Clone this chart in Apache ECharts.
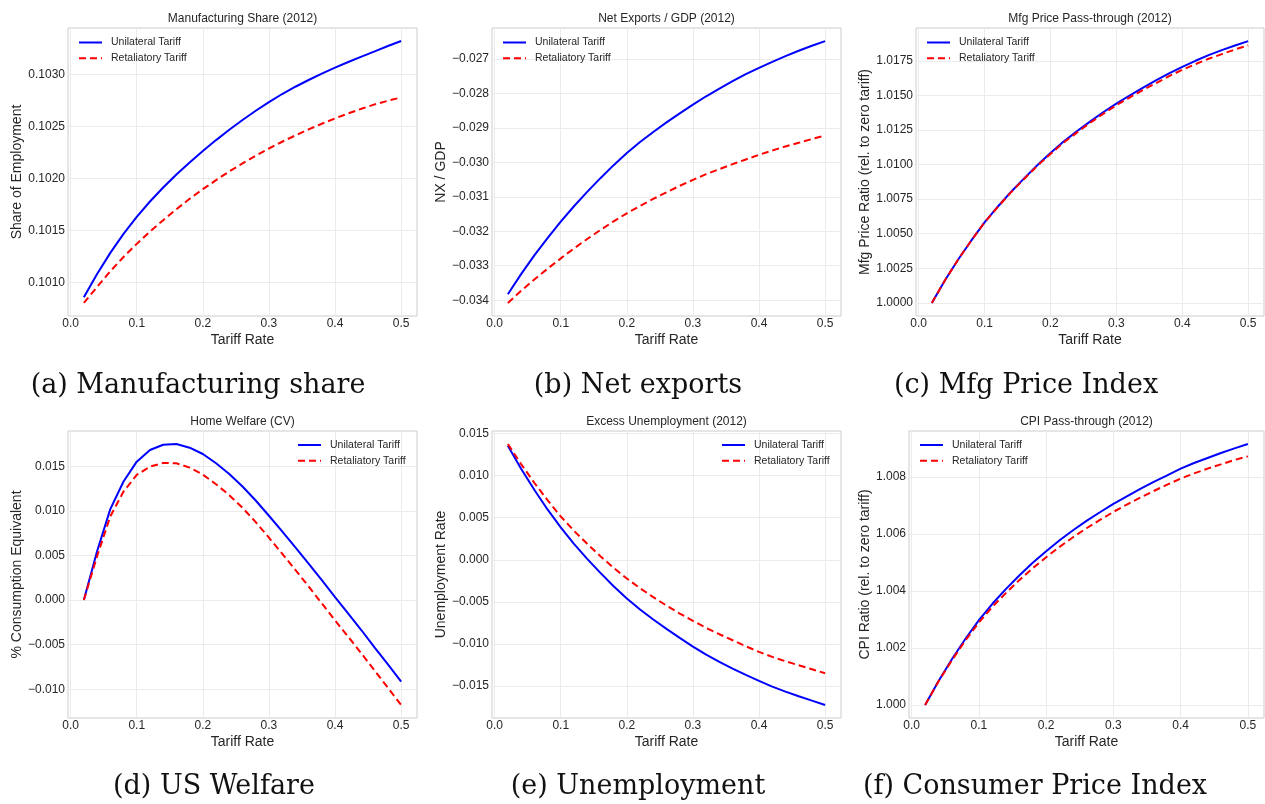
<!DOCTYPE html>
<html>
<head>
<meta charset="utf-8">
<script src="https://cdn.jsdelivr.net/npm/echarts@6/dist/echarts.min.js"></script>
<style>
html, body { margin: 0; padding: 0; background: #fff; }
#chart { width: 1265px; height: 804px; }
</style>
</head>
<body>
<div id="chart"></div>
<script>
// tariff grid (x values)
var TARIFF = [0.02, 0.04, 0.06, 0.08, 0.10, 0.12, 0.14, 0.16, 0.18, 0.20, 0.22, 0.24, 0.26,
              0.28, 0.30, 0.32, 0.34, 0.36, 0.38, 0.40, 0.42, 0.44, 0.46, 0.48, 0.50];

// (a) manufacturing share
var mfgShareUni = [0.100855, 0.101080, 0.101283, 0.101466, 0.101630, 0.101778, 0.101913, 0.102039, 0.102154,
                   0.102264, 0.102370, 0.102469, 0.102563, 0.102653, 0.102736, 0.102814, 0.102884, 0.102949,
                   0.103010, 0.103068, 0.103122, 0.103174, 0.103225, 0.103277, 0.103325];
var mfgShareRet = [0.100801, 0.100955, 0.101106, 0.101244, 0.101370, 0.101489, 0.101598, 0.101704, 0.101804,
                   0.101897, 0.101984, 0.102068, 0.102145, 0.102219, 0.102289, 0.102354, 0.102415, 0.102473,
                   0.102527, 0.102579, 0.102627, 0.102672, 0.102714, 0.102749, 0.102781];

// (b) net exports / GDP
var nxUni = [-0.033826, -0.033244, -0.032701, -0.032197, -0.031722, -0.031276, -0.030859, -0.030461, -0.030083,
             -0.029734, -0.029414, -0.029123, -0.028842, -0.028580, -0.028328, -0.028086, -0.027863, -0.027650,
             -0.027446, -0.027262, -0.027087, -0.026922, -0.026767, -0.026622, -0.026486];
var nxRet = [-0.034078, -0.033729, -0.033399, -0.033089, -0.032788, -0.032497, -0.032226, -0.031964, -0.031712,
             -0.031479, -0.031266, -0.031062, -0.030869, -0.030684, -0.030510, -0.030345, -0.030200, -0.030054,
             -0.029918, -0.029783, -0.029657, -0.029540, -0.029434, -0.029327, -0.029220];

// (c) mfg price ratio
var mfgPriceUni = [1.000000, 1.001641, 1.003138, 1.004514, 1.005817, 1.006952, 1.008014, 1.009003, 1.009945,
                   1.010838, 1.011659, 1.012407, 1.013107, 1.013783, 1.014410, 1.014990, 1.015545, 1.016076,
                   1.016583, 1.017066, 1.017500, 1.017910, 1.018272, 1.018610, 1.018924];
var mfgPriceRet = [1.000000, 1.001641, 1.003138, 1.004514, 1.005817, 1.006928, 1.007990, 1.008955, 1.009897,
                   1.010766, 1.011587, 1.012310, 1.013010, 1.013662, 1.014289, 1.014845, 1.015376, 1.015883,
                   1.016390, 1.016849, 1.017259, 1.017644, 1.017982, 1.018320, 1.018610];

// (d) home welfare
var welfareUni = [0.000000, 0.005469, 0.010193, 0.013281, 0.015513, 0.016815, 0.017411, 0.017485, 0.017076,
                  0.016369, 0.015327, 0.014137, 0.012723, 0.011161, 0.009449, 0.007701, 0.005915, 0.004092,
                  0.002232, 0.000335, -0.001525, -0.003385, -0.005320, -0.007217, -0.009152];
var welfareRet = [0.000000, 0.004911, 0.009375, 0.012165, 0.014025, 0.014955, 0.015364, 0.015327, 0.014844,
                  0.014062, 0.012983, 0.011756, 0.010342, 0.008742, 0.006994, 0.005208, 0.003385, 0.001525,
                  -0.000372, -0.002269, -0.004129, -0.005990, -0.007924, -0.009821, -0.011756];

// (e) excess unemployment
var unempUni = [0.013553, 0.010819, 0.008322, 0.005984, 0.003844, 0.001902, 0.000119, -0.001546, -0.003131,
                -0.004597, -0.005905, -0.007094, -0.008203, -0.009273, -0.010304, -0.011255, -0.012127, -0.012919,
                -0.013672, -0.014386, -0.015059, -0.015654, -0.016209, -0.016724, -0.017239];
var unempRet = [0.013752, 0.011374, 0.009155, 0.007094, 0.005152, 0.003448, 0.001902, 0.000436, -0.000951,
                -0.002219, -0.003369, -0.004439, -0.005429, -0.006380, -0.007252, -0.008085, -0.008837, -0.009551,
                -0.010264, -0.010938, -0.011532, -0.012048, -0.012523, -0.012999, -0.013474];

// (f) CPI ratio
var cpiUni = [1.000000, 1.000841, 1.001612, 1.002324, 1.002978, 1.003550, 1.004064, 1.004543, 1.004987,
              1.005396, 1.005781, 1.006131, 1.006458, 1.006762, 1.007054, 1.007323, 1.007580, 1.007825,
              1.008058, 1.008292, 1.008490, 1.008666, 1.008841, 1.009004, 1.009156];
var cpiRet = [1.000000, 1.000829, 1.001577, 1.002266, 1.002896, 1.003445, 1.003924, 1.004380, 1.004800,
              1.005185, 1.005547, 1.005886, 1.006201, 1.006493, 1.006774, 1.007031, 1.007276, 1.007509,
              1.007731, 1.007942, 1.008128, 1.008292, 1.008444, 1.008596, 1.008724];

// tick labels
var X_TICKS = [0.0, 0.1, 0.2, 0.3, 0.4, 0.5];
var mfgShareTicks = [0.1010, 0.1015, 0.1020, 0.1025, 0.1030];
var nxTicks = [-0.034, -0.033, -0.032, -0.031, -0.030, -0.029, -0.028, -0.027];
var mfgPriceTicks = [1.0000, 1.0025, 1.0050, 1.0075, 1.0100, 1.0125, 1.0150, 1.0175];
var welfareTicks = [-0.010, -0.005, 0.000, 0.005, 0.010, 0.015];
var unempTicks = [-0.015, -0.010, -0.005, 0.000, 0.005, 0.010, 0.015];
var cpiTicks = [1.000, 1.002, 1.004, 1.006, 1.008];

var SERIES_NAMES = ['Unilateral Tariff', 'Retaliatory Tariff'];

/**
 * 面板布局：网格位置、坐标范围、图例位置、标题、说明文字
 */
var panels = [
    { title: 'Manufacturing Share (2012)', yName: 'Share of Employment', uni: mfgShareUni, ret: mfgShareRet,
      ticks: mfgShareTicks, dec: 4, ymin: 0.100675, ymax: 0.103450,
      left: 68, top: 28, width: 349, height: 288, nameGap: 44, legendLeft: 78, legendTop: 37,
      caption: '(a) Manufacturing share', capX: 198, capY: 386 },
    { title: 'Net Exports / GDP (2012)', yName: 'NX / GDP', uni: nxUni, ret: nxRet,
      ticks: nxTicks, dec: 3, ymin: -0.034458, ymax: -0.026106,
      left: 492, top: 28, width: 349, height: 288, nameGap: 44, legendLeft: 502, legendTop: 37,
      caption: '(b) Net exports', capX: 638, capY: 386 },
    { title: 'Mfg Price Pass-through (2012)', yName: 'Mfg Price Ratio (rel. to zero tariff)', uni: mfgPriceUni, ret: mfgPriceRet,
      ticks: mfgPriceTicks, dec: 4, ymin: 0.999054, ymax: 1.019870,
      left: 916, top: 28, width: 348, height: 288, nameGap: 44, legendLeft: 926, legendTop: 37,
      caption: '(c) Mfg Price Index', capX: 1026, capY: 386 },
    { title: 'Home Welfare (CV)', yName: '% Consumption Equivalent', uni: welfareUni, ret: welfareRet,
      ticks: welfareTicks, dec: 3, ymin: -0.013218, ymax: 0.018947,
      left: 68, top: 431, width: 349, height: 287, nameGap: 44, legendLeft: 297, legendTop: 439.5,
      caption: '(d) US Welfare', capX: 214, capY: 787 },
    { title: 'Excess Unemployment (2012)', yName: 'Unemployment Rate', uni: unempUni, ret: unempRet,
      ticks: unempTicks, dec: 3, ymin: -0.018789, ymax: 0.015302,
      left: 492, top: 431, width: 349, height: 287, nameGap: 44, legendLeft: 721, legendTop: 439.5,
      caption: '(e) Unemployment', capX: 638, capY: 787 },
    { title: 'CPI Pass-through (2012)', yName: 'CPI Ratio (rel. to zero tariff)', uni: cpiUni, ret: cpiRet,
      ticks: cpiTicks, dec: 3, ymin: 0.999542, ymax: 1.009614,
      left: 909, top: 431, width: 355, height: 287, nameGap: 37, legendLeft: 919, legendTop: 439.5,
      caption: '(f) Consumer Price Index', capX: 1035, capY: 787 }
];

var FONT = 'Liberation Sans, Arial, sans-serif';
var TEXT_COLOR = '#262626';

function fmt(dec) {
    return function (v) { return v.toFixed(dec).replace('-', '\u2212'); };
}

function pairs(xs, ys) {
    return xs.map(function (x, i) { return [x, ys[i]]; });
}

var option = {
    animation: false,
    backgroundColor: '#ffffff',
    title: [],
    grid: [],
    xAxis: [],
    yAxis: [],
    legend: [],
    series: [],
    graphic: []
};

panels.forEach(function (p, i) {
    option.title.push({
        text: p.title,
        left: p.left + p.width / 2,
        top: p.top - 15,
        textAlign: 'center',
        padding: 0,
        textStyle: { fontFamily: FONT, fontSize: 12, fontWeight: 'normal', color: TEXT_COLOR }
    });
    option.grid.push({
        left: p.left, top: p.top, width: p.width, height: p.height,
        show: true, borderColor: '#cccccc', borderWidth: 1, backgroundColor: 'transparent'
    });
    option.xAxis.push({
        type: 'value', gridIndex: i, min: -0.004, max: 0.524,
        name: 'Tariff Rate', nameLocation: 'middle', nameGap: 17,
        nameTextStyle: { fontFamily: FONT, fontSize: 14, color: TEXT_COLOR },
        axisLine: { show: false },
        axisTick: { show: false, customValues: X_TICKS },
        axisLabel: { customValues: X_TICKS, formatter: fmt(1), margin: 2,
                     fontFamily: FONT, fontSize: 12, color: TEXT_COLOR },
        splitLine: { show: true, lineStyle: { color: '#ebebeb', width: 1 } }
    });
    option.yAxis.push({
        type: 'value', gridIndex: i, min: p.ymin, max: p.ymax,
        name: p.yName, nameLocation: 'middle', nameGap: p.nameGap, nameRotate: 90,
        nameTextStyle: { fontFamily: FONT, fontSize: 14, color: TEXT_COLOR },
        axisLine: { show: false },
        axisTick: { show: false, customValues: p.ticks },
        axisLabel: { customValues: p.ticks, formatter: fmt(p.dec), margin: 3,
                     fontFamily: FONT, fontSize: 12, color: TEXT_COLOR },
        splitLine: { show: true, lineStyle: { color: '#ebebeb', width: 1 } }
    });
    // 图例只画线，不画圆点
    option.legend.push({
        left: p.legendLeft, top: p.legendTop, orient: 'vertical', padding: 0,
        itemWidth: 23, itemHeight: 11, itemGap: 4.7, selectedMode: false,
        itemStyle: { opacity: 0 },
        data: SERIES_NAMES,
        textStyle: { fontFamily: FONT, fontSize: 10.5, color: TEXT_COLOR, padding: [0, 0, 0, 4] }
    });
    option.series.push({
        name: SERIES_NAMES[0], type: 'line', xAxisIndex: i, yAxisIndex: i,
        data: pairs(TARIFF, p.uni), symbol: 'none', color: '#0000ff',
        lineStyle: { color: '#0000ff', width: 2 }
    });
    option.series.push({
        name: SERIES_NAMES[1], type: 'line', xAxisIndex: i, yAxisIndex: i,
        data: pairs(TARIFF, p.ret), symbol: 'none', color: '#ff0000',
        lineStyle: { color: '#ff0000', width: 2, type: [7, 4] }
    });
    option.graphic.push({
        type: 'text', x: p.capX, y: p.capY,
        style: { text: p.caption, font: '27px "DejaVu Serif", serif', fill: '#111111',
                 align: 'center', verticalAlign: 'middle', textAlign: 'center', textVerticalAlign: 'middle' }
    });
});

var chart = echarts.init(document.getElementById('chart'), null, { renderer: 'canvas' });
chart.setOption(option);
</script>
</body>
</html>
